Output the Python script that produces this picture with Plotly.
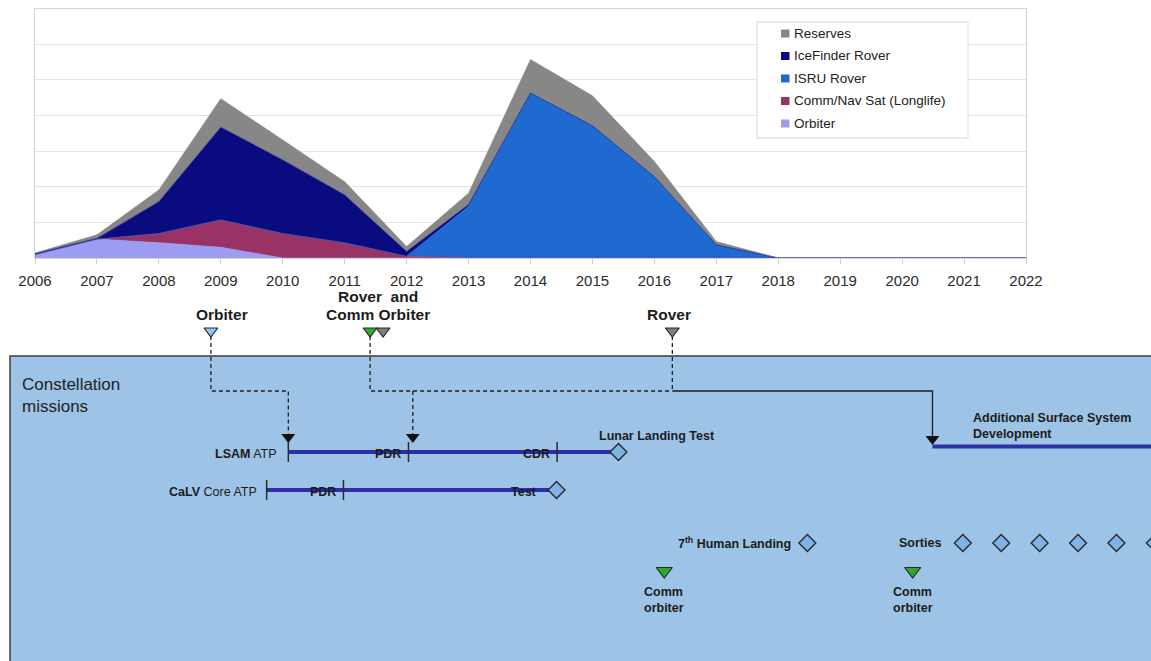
import plotly.graph_objects as go

W, H = 1151, 661
FONT = "Liberation Sans, Arial, sans-serif"
TXT = "#1c1c1c"

# ---------------- stacked budget profile ----------------
years = list(range(2006, 2023))
orbiter   = [0.10, 0.53, 0.43, 0.30, 0.00, 0.00, 0.00, 0.00, 0.00, 0.00, 0.00, 0.00, 0.00, 0.00, 0.00, 0.00, 0.00]
comm_nav  = [0.00, 0.00, 0.26, 0.77, 0.69, 0.43, 0.05, 0.00, 0.00, 0.00, 0.00, 0.00, 0.00, 0.00, 0.00, 0.00, 0.00]
isru      = [0.00, 0.00, 0.00, 0.00, 0.00, 0.00, 0.00, 1.45, 4.63, 3.71, 2.28, 0.37, 0.00, 0.00, 0.00, 0.00, 0.00]
icefinder = [0.02, 0.02, 0.89, 2.60, 2.06, 1.34, 0.13, 0.05, 0.00, 0.00, 0.00, 0.00, 0.00, 0.00, 0.00, 0.00, 0.00]
reserves  = [0.02, 0.10, 0.33, 0.80, 0.56, 0.37, 0.14, 0.32, 0.94, 0.84, 0.43, 0.09, 0.00, 0.00, 0.00, 0.00, 0.00]

# stacking order, bottom to top
series_names = ["Orbiter", "Comm/Nav Sat (Longlife)", "ISRU Rover", "IceFinder Rover", "Reserves"]
series_values = [orbiter, comm_nav, isru, icefinder, reserves]
series_colors = ["#9C9CF2", "#993366", "#1F6AD0", "#0B0B80", "#878787"]

# ---------------- mission timeline (decimal years) ----------------
orbiter_launch = 2008.84
comm_orbiter_launch = 2011.41
rover_launches = [2011.62, 2016.29]
lsam_milestones = [2010.09, 2012.03, 2014.43]      # ATP, PDR, CDR
lsam_milestone_labels = ["", "PDR", "CDR"]
lsam_test = 2015.42
lsam_link = 2012.10
calv_milestones = [2009.74, 2010.98]               # Core ATP, PDR
calv_milestone_labels = ["", "PDR"]
calv_test = 2014.42
surface_dev_start = 2020.49
timeline_end = 2024.2
human_landing_7 = 2018.47
sorties = [2020.98, 2021.60, 2022.22, 2022.84, 2023.46, 2024.08]
comm_orbiters = [2016.16, 2020.17]


def px(x):
    return x / W


def py(y):
    return 1 - y / H


# plot-area geometry of the budget chart (pixels)
CH_L, CH_R, CH_T, CH_B = 35, 1026, 8.5, 258
per_year = (CH_R - CH_L) / (years[-1] - years[0])
x2_range = [years[0] - CH_L / per_year, years[0] + (W - CH_L) / per_year]

# timeline rows (pixels from the top of the page)
ROW_TRI = 331
ROW_LINK = 391
ROW_SURF = 446.5
ROW_LSAM = 452
ROW_CALV = 490
ROW_LAND = 543
ROW_COMM = 571

fig = go.Figure()

for name, vals, color in zip(series_names, series_values, series_colors):
    fig.add_trace(go.Scatter(
        x=years, y=vals, name=name, stackgroup="budget", mode="lines",
        line=dict(width=0.6, color=color), fillcolor=color,
        xaxis="x", yaxis="y", showlegend=False, hoverinfo="skip"))

T = dict(xaxis="x2", yaxis="y2", showlegend=False, hoverinfo="skip")
DASH = dict(color="#202020", width=1.3, dash="4px,3px")
SOLID = dict(color="#202020", width=1.3)
BAR = dict(color="#2E2EA6", width=4)

# dashed feeds from the precursor missions
fig.add_trace(go.Scatter(x=[orbiter_launch, orbiter_launch, lsam_milestones[0], lsam_milestones[0]],
                         y=[336, ROW_LINK, ROW_LINK, 434], mode="lines", line=DASH, **T))
fig.add_trace(go.Scatter(x=[comm_orbiter_launch, comm_orbiter_launch, rover_launches[1]],
                         y=[336, ROW_LINK, ROW_LINK], mode="lines", line=DASH, **T))
fig.add_trace(go.Scatter(x=[lsam_link, lsam_link], y=[ROW_LINK, 434], mode="lines", line=DASH, **T))
fig.add_trace(go.Scatter(x=[rover_launches[1], rover_launches[1]], y=[336, ROW_LINK],
                         mode="lines", line=DASH, **T))
fig.add_trace(go.Scatter(x=[rover_launches[1], surface_dev_start, surface_dev_start],
                         y=[ROW_LINK, ROW_LINK, 436], mode="lines", line=SOLID, **T))

# arrowheads
fig.add_trace(go.Scatter(x=[lsam_milestones[0], lsam_link, surface_dev_start], y=[437, 437, 439],
                         mode="markers", marker=dict(symbol="triangle-down", size=12, color="#111111",
                                                     line=dict(width=0)), **T))

# development bars
fig.add_trace(go.Scatter(x=[lsam_milestones[0], lsam_test], y=[ROW_LSAM, ROW_LSAM],
                         mode="lines", line=BAR, **T))
fig.add_trace(go.Scatter(x=[calv_milestones[0], calv_test], y=[ROW_CALV, ROW_CALV],
                         mode="lines", line=BAR, **T))
fig.add_trace(go.Scatter(x=[surface_dev_start, timeline_end], y=[ROW_SURF, ROW_SURF],
                         mode="lines", line=BAR, **T))

# milestone ticks
tx, ty = [], []
for m in lsam_milestones:
    tx += [m, m, None]
    ty += [ROW_LSAM - 10, ROW_LSAM + 10, None]
for m in calv_milestones:
    tx += [m, m, None]
    ty += [ROW_CALV - 10, ROW_CALV + 10, None]
fig.add_trace(go.Scatter(x=tx, y=ty, mode="lines", line=dict(color="#2a2a2a", width=1.5), **T))

# diamonds: tests, landing, sorties
dx = [lsam_test, calv_test, human_landing_7] + sorties
dy = [ROW_LSAM, ROW_CALV, ROW_LAND] + [ROW_LAND] * len(sorties)
fig.add_trace(go.Scatter(x=dx, y=dy, mode="markers",
                         marker=dict(symbol="diamond", size=13, color="#7DB3E6",
                                     line=dict(color="#2a2a2a", width=1.4)), **T))

# launch triangles
fig.add_trace(go.Scatter(x=[orbiter_launch], y=[ROW_TRI], mode="markers",
                         marker=dict(symbol="triangle-down", size=12, color="#8EC4F0",
                                     line=dict(color="#2a2a2a", width=1.2)), **T))
fig.add_trace(go.Scatter(x=[comm_orbiter_launch], y=[ROW_TRI], mode="markers",
                         marker=dict(symbol="triangle-down", size=12, color="#2EA82E",
                                     line=dict(color="#2a2a2a", width=1.2)), **T))
fig.add_trace(go.Scatter(x=rover_launches, y=[ROW_TRI] * len(rover_launches), mode="markers",
                         marker=dict(symbol="triangle-down", size=12, color="#7F7F7F",
                                     line=dict(color="#2a2a2a", width=1.2)), **T))
fig.add_trace(go.Scatter(x=comm_orbiters, y=[ROW_COMM] * len(comm_orbiters), mode="markers",
                         marker=dict(symbol="triangle-down", size=14, color="#2EA82E",
                                     line=dict(color="#2a2a2a", width=1.2)), **T))

annotations = []


def note(text, x, y, size=12.5, xanchor="center", xshift=0, ref="x2", color=TXT, yanchor="middle"):
    annotations.append(dict(
        text=text, x=x, y=y, xref=ref, yref="y2", xanchor=xanchor, yanchor=yanchor,
        xshift=xshift, showarrow=False, align="left",
        font=dict(family=FONT, size=size, color=color)))


note("<b>Orbiter</b>", orbiter_launch, 314, size=15.5, xshift=11)
mid = (comm_orbiter_launch + rover_launches[0]) / 2
note("<b>Rover  and</b>", mid, 296, size=15.5, xshift=1)
note("<b>Comm Orbiter</b>", mid, 314, size=15.5, xshift=1)
note("<b>Rover</b>", rover_launches[1], 314, size=15.5, xshift=-3)

note("<b>LSAM</b> ATP", lsam_milestones[0], ROW_LSAM + 2, xanchor="right", xshift=-9)
note("<b>CaLV</b> Core ATP", calv_milestones[0], ROW_CALV + 2, xanchor="right", xshift=-8)
for m, lab in zip(lsam_milestones, lsam_milestone_labels):
    if lab:
        note("<b>%s</b>" % lab, m, ROW_LSAM + 2, xanchor="right", xshift=-5)
for m, lab in zip(calv_milestones, calv_milestone_labels):
    if lab:
        note("<b>%s</b>" % lab, m, ROW_CALV + 2, xanchor="right", xshift=-5)
note("<b>Test</b>", calv_test, ROW_CALV + 2, xanchor="right", xshift=-18)
note("<b>Lunar Landing Test</b>", lsam_test, 436, xanchor="left", xshift=-21)
note("<b>Additional Surface System<br>Development</b>", surface_dev_start, 425.5,
     xanchor="left", xshift=39)
note("<b>7<sup>th</sup> Human Landing</b>", human_landing_7, ROW_LAND, xanchor="right", xshift=-14)
note("<b>Sorties</b>", sorties[0], ROW_LAND, xanchor="right", xshift=-20)
for c in comm_orbiters:
    note("<b>Comm<br>orbiter</b>", c, 599.5, xanchor="left", xshift=-22)

# panel caption
annotations.append(dict(text="Constellation<br>missions", x=px(20), y=py(395.5), xref="paper", yref="paper",
                        xanchor="left", yanchor="middle", showarrow=False, align="left",
                        font=dict(family=FONT, size=17, color="#222222")))

shapes = [
    # mission panel
    dict(type="rect", xref="paper", yref="paper", x0=px(10), x1=1.02, y0=-0.02, y1=py(356),
         fillcolor="#9DC3E6", line=dict(color="#3c3c3c", width=1.5), layer="below"),
    # legend box
    dict(type="rect", xref="paper", yref="paper", x0=px(757), x1=px(968), y0=py(138), y1=py(22),
         fillcolor="white", line=dict(color="#d8d8d8", width=1), layer="above"),
]

# legend entries, top entry is the top of the stack
for i, (name, color) in enumerate(zip(series_names[::-1], series_colors[::-1])):
    yc = 33.5 + 22.5 * i
    shapes.append(dict(type="rect", xref="paper", yref="paper", x0=px(781), x1=px(789.5),
                       y0=py(yc + 4), y1=py(yc - 4), fillcolor=color, line=dict(width=0), layer="above"))
    annotations.append(dict(text=name, x=px(791.5), y=py(yc), xref="paper", yref="paper",
                            xanchor="left", yanchor="middle", showarrow=False,
                            font=dict(family=FONT, size=13.5, color="#222222")))

fig.update_layout(
    width=W, height=H, margin=dict(l=0, r=0, t=0, b=0, pad=0, autoexpand=False),
    paper_bgcolor="white", plot_bgcolor="rgba(0,0,0,0)",
    showlegend=False, shapes=shapes, annotations=annotations,
    font=dict(family=FONT),
    xaxis=dict(domain=[px(CH_L), px(CH_R)], range=[years[0], years[-1]], tickvals=years,
               ticks="outside", ticklen=5, tickcolor="#cfcfcf", ticklabelstandoff=4,
               tickfont=dict(family=FONT, size=15, color="#2b2b2b"), automargin=False,
               showgrid=False, zeroline=False, showline=True, mirror=True,
               linecolor="#d4d4d4", linewidth=1, anchor="y", fixedrange=True),
    yaxis=dict(domain=[py(CH_B), py(CH_T)], range=[0, 7], dtick=1, showticklabels=False,
               showgrid=True, gridcolor="#e4e4e4", gridwidth=1, zeroline=False, automargin=False,
               showline=True, mirror=True, linecolor="#d4d4d4", linewidth=1, ticks="",
               anchor="x", fixedrange=True),
    xaxis2=dict(domain=[0, 1], range=x2_range, visible=False, anchor="y2", fixedrange=True,
                automargin=False),
    yaxis2=dict(domain=[0, 1], range=[H, 0], visible=False, anchor="x2", fixedrange=True,
                automargin=False),
)

fig.write_html("out.html")
